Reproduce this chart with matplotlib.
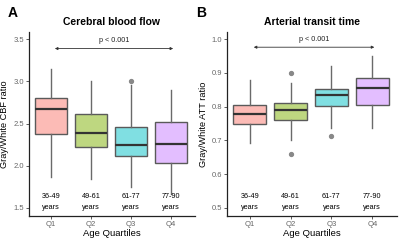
import numpy as np
import matplotlib
matplotlib.use("Agg")
import matplotlib.pyplot as plt
import matplotlib.transforms as mtransforms

plt.rcParams['font.family'] = ['Liberation Sans', 'DejaVu Sans']

quartiles = ["Q1", "Q2", "Q3", "Q4"]
age_ranges = ["36-49", "49-61", "61-77", "77-90"]
colors = ["#F8766D", "#7CAE00", "#00BFC4", "#C77CFF"]

# CBF boxplot stats: whisker low, q1, median, q3, whisker high
cbf_whislo = [1.87, 1.84, 1.745, 1.66]
cbf_q1 = [2.377, 2.22, 2.12, 2.03]
cbf_med = [2.67, 2.39, 2.25, 2.255]
cbf_q3 = [2.807, 2.61, 2.456, 2.52]
cbf_whishi = [3.148, 3.01, 2.955, 2.90]
cbf_fliers = [[], [], [3.0], []]

# ATT boxplot stats
att_whislo = [0.693, 0.702, 0.736, 0.738]
att_q1 = [0.749, 0.761, 0.803, 0.804]
att_med = [0.779, 0.789, 0.833, 0.855]
att_q3 = [0.806, 0.811, 0.853, 0.885]
att_whishi = [0.879, 0.870, 0.919, 0.949]
att_fliers = [[], [0.901, 0.66], [0.713], []]


def make_stats(lo, q1, med, q3, hi, fl):
    return [dict(whislo=a, q1=b, med=c, q3=d, whishi=e, fliers=f)
            for a, b, c, d, e, f in zip(lo, q1, med, q3, hi, fl)]


def panel(ax, stats, title, ylabel, ylim, yticks, arrow_y, p_y):
    bp = ax.bxp(stats, positions=range(1, 5), widths=0.8, patch_artist=True,
                showfliers=True,
                boxprops=dict(edgecolor="#5a5a5a", linewidth=1.0),
                medianprops=dict(color="#333333", linewidth=1.6),
                whiskerprops=dict(color="#6a6a6a", linewidth=1.0),
                capprops=dict(linewidth=0),
                flierprops=dict(marker="o", markersize=2.8, markerfacecolor="#888888",
                                markeredgecolor="#888888"))
    # ggplot fill with alpha 0.5 on white
    for patch, c in zip(bp["boxes"], colors):
        rgb = np.array(matplotlib.colors.to_rgb(c))
        patch.set_facecolor(tuple(0.5 * rgb + 0.5))
    ax.set_xlim(0.45, 4.6)
    ax.set_ylim(*ylim)
    ax.set_yticks(yticks)
    ax.set_xticks(range(1, 5))
    ax.set_xticklabels(quartiles)
    for s in ["top", "right"]:
        ax.spines[s].set_visible(False)
    for s in ["left", "bottom"]:
        ax.spines[s].set_linewidth(0.9)
        ax.spines[s].set_color("#222222")
    ax.tick_params(labelsize=5.5, labelcolor="#666666", length=2, width=0.6, color="#444444", pad=1.5)
    ax.set_title(title, fontsize=7.5, fontweight="bold", pad=5)
    ax.set_ylabel(ylabel, fontsize=6.6, labelpad=3)
    ax.set_xlabel("Age Quartiles", fontsize=6.8, labelpad=1)
    ax.annotate("", xy=(1.1, arrow_y), xytext=(4.05, arrow_y),
                arrowprops=dict(arrowstyle="<|-|>", color="#333333", lw=0.6,
                                mutation_scale=4, shrinkA=0, shrinkB=0))
    ax.text(2.575, p_y, "p < 0.001", fontsize=5.2, ha="center", va="center", color="#222222")
    trans = mtransforms.blended_transform_factory(ax.transData, ax.transAxes)
    for i, r in enumerate(age_ranges):
        ax.text(i + 1, 0.105, r, fontsize=5.2, ha="center", va="center", transform=trans)
        ax.text(i + 1, 0.045, "years", fontsize=5.2, ha="center", va="center", transform=trans)


fig = plt.figure(figsize=(4, 2.4), dpi=100)
ax1 = fig.add_axes([0.072, 0.1, 0.416, 0.768])
ax2 = fig.add_axes([0.568, 0.1, 0.424, 0.768])

panel(ax1, make_stats(cbf_whislo, cbf_q1, cbf_med, cbf_q3, cbf_whishi, cbf_fliers),
      "Cerebral blood flow", "Gray/White CBF ratio", (1.405, 3.59),
      [1.5, 2.0, 2.5, 3.0, 3.5], 3.39, 3.49)
panel(ax2, make_stats(att_whislo, att_q1, att_med, att_q3, att_whishi, att_fliers),
      "Arterial transit time", "Gray/White ATT ratio", (0.476, 1.022),
      [0.5, 0.6, 0.7, 0.8, 0.9, 1.0], 0.976, 0.998)

fig.text(0.02, 0.945, "A", fontsize=10, fontweight="bold", ha="left", va="center")
fig.text(0.49, 0.945, "B", fontsize=10, fontweight="bold", ha="left", va="center")

fig.savefig("out.png", dpi=100)
